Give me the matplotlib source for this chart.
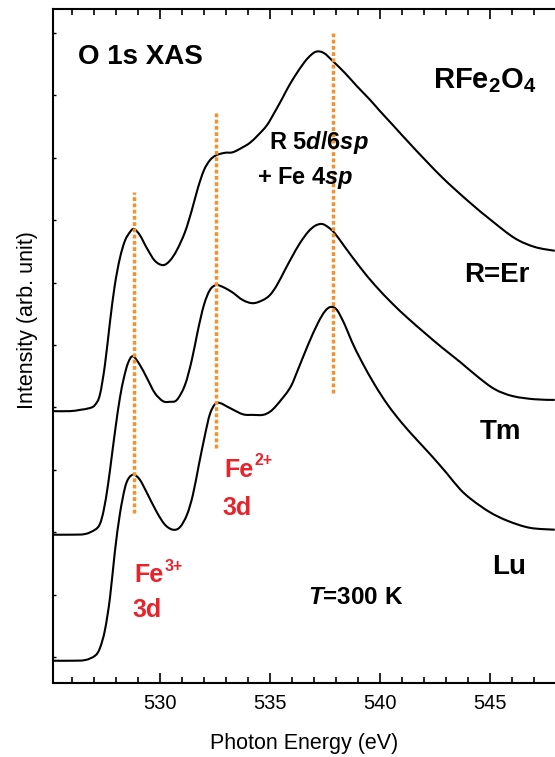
import numpy as np
import matplotlib
matplotlib.use("Agg")
import matplotlib.pyplot as plt
from matplotlib.path import Path
from matplotlib.patches import PathPatch
from matplotlib.ticker import MultipleLocator, NullFormatter

plt.rcParams['font.family'] = ['Liberation Sans', 'DejaVu Sans']
plt.rcParams['mathtext.fontset'] = 'custom'
plt.rcParams['mathtext.rm'] = 'Liberation Sans'
plt.rcParams['mathtext.it'] = 'Liberation Sans:italic'
plt.rcParams['mathtext.bf'] = 'Liberation Sans:bold'
plt.rcParams['mathtext.bfit'] = 'Liberation Sans:bold:italic'

# O 1s XAS spectra, offset vertically (arb. unit)
energy_er = [525.14, 525.91, 526.36, 526.82, 527.05, 527.27, 527.50, 527.73, 527.95, 528.18,
             528.41, 528.64, 528.82, 529.09, 529.41, 529.77, 530.14, 530.45, 530.77, 531.14,
             531.45, 531.73, 532.00, 532.27, 532.55, 532.95, 533.32, 533.77, 534.09, 534.45,
             534.86, 535.23, 535.59, 535.91, 536.36, 536.73, 537.09, 537.45, 537.86, 538.41,
             538.95, 539.55, 540.00, 540.55, 541.59, 542.82, 544.00, 545.09, 546.14, 547.05,
             547.95]
inten_er = [3.94, 3.94, 3.96, 3.99, 4.04, 4.20, 4.68, 5.37, 5.96, 6.39,
            6.67, 6.81, 6.86, 6.76, 6.55, 6.35, 6.28, 6.35, 6.52, 6.81,
            7.16, 7.52, 7.80, 7.96, 8.04, 8.08, 8.09, 8.17, 8.24, 8.36,
            8.52, 8.74, 8.97, 9.18, 9.43, 9.60, 9.70, 9.68, 9.55, 9.36,
            9.15, 8.93, 8.75, 8.54, 8.14, 7.69, 7.31, 6.99, 6.71, 6.57,
            6.51]

energy_tm = [525.14, 525.91, 526.59, 527.05, 527.27, 527.45, 527.64, 527.82, 528.00, 528.18,
             528.36, 528.55, 528.77, 529.09, 529.41, 529.77, 530.14, 530.45, 530.77, 531.14,
             531.45, 531.73, 532.00, 532.27, 532.55, 532.86, 533.27, 533.77, 534.23, 534.68,
             535.00, 535.32, 535.68, 536.00, 536.36, 536.73, 537.05, 537.36, 537.64, 537.95,
             538.41, 539.09, 539.77, 540.55, 541.27, 542.05, 542.82, 543.64, 544.45, 545.23,
             546.05, 547.05, 547.95]
inten_tm = [1.96, 1.96, 1.97, 2.04, 2.13, 2.36, 2.76, 3.24, 3.72, 4.15,
            4.47, 4.71, 4.82, 4.68, 4.47, 4.23, 4.10, 4.09, 4.12, 4.36,
            4.76, 5.24, 5.64, 5.88, 5.96, 5.93, 5.85, 5.72, 5.67, 5.72,
            5.80, 5.96, 6.20, 6.41, 6.63, 6.81, 6.91, 6.94, 6.89, 6.79,
            6.57, 6.25, 5.96, 5.67, 5.43, 5.19, 4.96, 4.73, 4.49, 4.29,
            4.18, 4.13, 4.12]

energy_lu = [525.14, 525.91, 526.59, 527.05, 527.27, 527.50, 527.73, 527.95, 528.18, 528.41,
             528.59, 528.82, 529.09, 529.41, 529.86, 530.23, 530.59, 530.91, 531.23, 531.50,
             531.77, 532.05, 532.27, 532.50, 532.73, 533.18, 533.77, 534.23, 534.68, 535.00,
             535.32, 535.91, 536.27, 536.73, 537.18, 537.50, 537.77, 538.05, 538.41, 538.73,
             539.18, 539.77, 540.36, 541.00, 541.68, 542.36, 543.05, 543.64, 544.18, 545.00,
             545.82, 546.82, 547.95]
inten_lu = [-0.06, -0.06, -0.05, 0.02, 0.14, 0.43, 0.95, 1.68, 2.29, 2.71,
            2.87, 2.92, 2.84, 2.63, 2.32, 2.12, 2.04, 2.08, 2.28, 2.60,
            3.08, 3.56, 3.89, 4.05, 4.07, 3.99, 3.89, 3.88, 3.88, 3.93,
            4.04, 4.31, 4.60, 5.00, 5.35, 5.54, 5.61, 5.56, 5.32, 5.05,
            4.73, 4.36, 4.04, 3.75, 3.48, 3.22, 2.94, 2.69, 2.52, 2.32,
            2.18, 2.07, 2.04]

# peak markers: energy, lower end, upper end
peak_energy = [528.82, 532.55, 537.86]
peak_low = [2.31, 3.35, 4.23]
peak_high = [7.45, 8.75, 10.0]

orange = '#f39230'
red = '#e8232b'


def smooth_path(x, y):
    # pass a cubic Bezier through every point (Catmull-Rom tangents)
    p = np.column_stack([x, y])
    q = np.vstack([p[0], p, p[-1]])
    verts = [p[0]]
    codes = [Path.MOVETO]
    for i in range(len(p) - 1):
        p0, p1, p2, p3 = q[i], q[i + 1], q[i + 2], q[i + 3]
        verts += [p1 + (p2 - p0) / 6, p2 - (p3 - p1) / 6, p2]
        codes += [Path.CURVE4] * 3
    return Path(verts, codes)


fig = plt.figure(figsize=(5.55, 7.57), dpi=100)
ax = fig.add_axes([53 / 555, 74 / 757, 502 / 555, 674 / 757])

for e, i in [(energy_er, inten_er), (energy_tm, inten_tm), (energy_lu, inten_lu)]:
    ax.add_patch(PathPatch(smooth_path(e, i), fill=False, edgecolor='black',
                           lw=1.5, joinstyle='round', zorder=2))

for e, lo, hi in zip(peak_energy, peak_low, peak_high):
    ax.plot([e, e], [lo, hi], color=orange, lw=2.5, ls=(0, (1.1, 0.7)),
            dash_capstyle='butt', zorder=2.5)

ax.set_xlim(525.14, 547.96)
ax.set_ylim(-0.417, 10.385)

ax.xaxis.set_major_locator(MultipleLocator(5))
ax.xaxis.set_minor_locator(MultipleLocator(1))
ax.set_yticks(np.arange(0, 11))
ax.yaxis.set_major_formatter(NullFormatter())
ax.tick_params(axis='x', which='both', direction='in', top=True, bottom=True,
               labelsize=14.5, pad=8, width=1.2)
ax.tick_params(axis='x', which='major', length=7)
ax.tick_params(axis='x', which='minor', length=4)
ax.tick_params(axis='y', which='major', direction='in', length=2.2, width=1.0,
               left=True, right=False)

for side in ['left', 'bottom', 'top']:
    ax.spines[side].set_linewidth(1.5)
ax.spines['right'].set_visible(False)

ax.set_xlabel('Photon Energy (eV)', fontsize=15.5, labelpad=14)
ax.set_ylabel('Intensity (arb. unit)', fontsize=15.5)
ax.yaxis.set_label_coords(-0.03, 0.539)

bold = dict(fontweight='bold', va='center', ha='left', zorder=3)
ax.text(526.27, 9.62, 'O 1s XAS', fontsize=20, **bold)
ax.text(542.41, 9.12, r'RFe$_{\mathbf{2}}$O$_{\mathbf{4}}$', fontsize=21,
        fontweight='bold', ha='left', va='baseline')
ax.text(534.95, 8.24, r'R 5$\mathbfit{d}$/6$\mathbfit{sp}$', fontsize=17, **bold)
ax.text(534.41, 7.68, r'+ Fe 4$\mathbfit{sp}$', fontsize=17, **bold)
ax.text(543.82, 6.12, 'R=Er', fontsize=20, **bold)
ax.text(544.55, 3.61, 'Tm', fontsize=20, **bold)
ax.text(545.09, 1.45, 'Lu', fontsize=20, **bold)
ax.text(536.73, 0.96, r'$\mathbfit{T}$=300 K', fontsize=17.5, **bold)

# Fe valence labels with raised charge
for x0, y0, charge in [(528.86, 1.31, '3+'), (532.95, 3.00, '2+')]:
    ax.text(x0, y0, 'Fe', fontsize=18, color=red, **bold)
    ax.annotate(charge, xy=(x0, y0), xytext=(21.5, 6.5), textcoords='offset points',
                fontsize=11.5, color=red, fontweight='bold', va='center', ha='left')
ax.text(528.77, 0.75, '3d', fontsize=18, color=red, **bold)
ax.text(532.86, 2.39, '3d', fontsize=18, color=red, **bold)

fig.savefig('out.png', dpi=100)
